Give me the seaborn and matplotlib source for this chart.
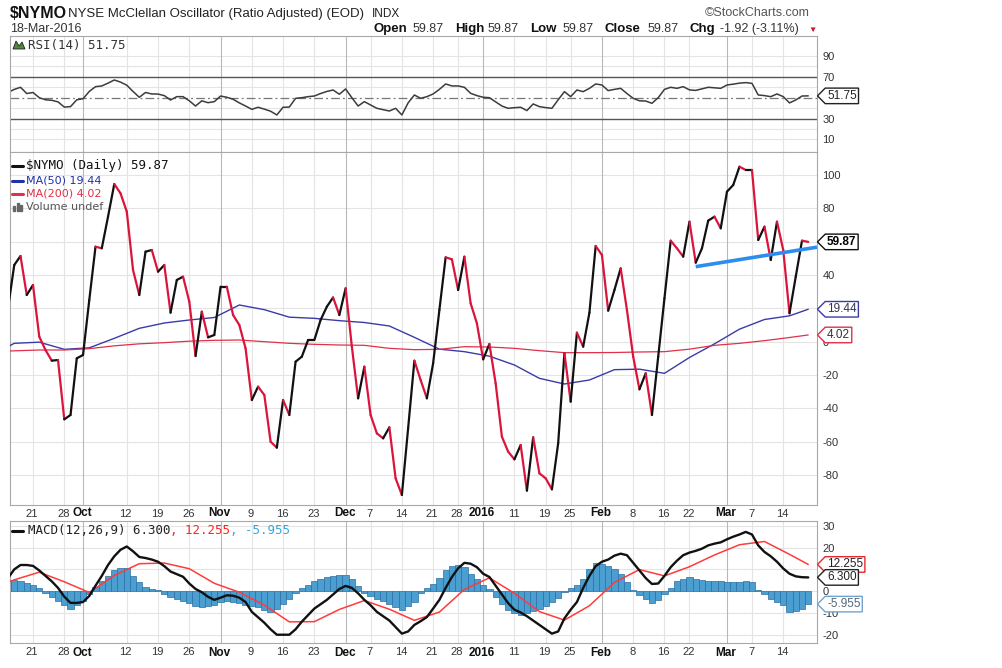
import numpy as np
import pandas as pd
import matplotlib
matplotlib.use("Agg")
import matplotlib.pyplot as plt
import seaborn as sns
from matplotlib.collections import LineCollection
from matplotlib.lines import Line2D
from matplotlib.patches import Rectangle, Polygon
from matplotlib.path import Path

# ---- values (one value per trading day) ----
holidays = ["2015-11-26", "2015-12-25", "2016-01-01", "2016-01-18", "2016-02-15"]
first_day, last_day = "2015-09-15", "2016-03-18"

nymo = [20, 46, 51.4, 28, 34, 3, -5, -11.4, -11, -46.6,
        -44, -10, -8, 25, 57, 56, 75, 94.6, 89, 78,
        43, 28, 54, 55, 42, 46, 17.4, 37, 39, 24,
        -8.6, 18, 2.6, 4, 33, 33, 16, 10, -4, -35,
        -27, -32, -60, -63.6, -35, -44, -12, -9, 1, 1,
        13, 21, 26.5, 16, 32, -3, -34, -15, -44, -55,
        -58, -51.4, -82, -92, -52, -11.4, -23, -34, -13, 19,
        50.6, 49.4, 31, 51, 23, 11, -10.6, -1.4, -25, -57,
        -66, -70.6, -62, -89.4, -57.4, -79, -82, -88.6, -61, -7,
        -36, 5.4, -3, 17.4, 57.4, 52, 18.6, 31, 44, 19,
        -9, -28.6, -19, -44, -9, 26, 60.6, 56, 51, 72,
        47.4, 56, 72.6, 75, 68, 90, 94, 105, 103, 103,
        61, 69, 49, 72, 55, 17, 39, 60.6, 59.87]

rsi = [55, 58, 60, 54, 55, 50, 48, 47.5, 46, 41,
       41.4, 48, 49, 56, 60.6, 61.3, 64, 67, 65, 62,
       56, 50.4, 55, 53.6, 53.5, 52, 47.8, 51, 51, 47,
       42, 47, 45.2, 46.2, 51.6, 50.4, 48.5, 45, 42, 38.8,
       40.8, 39, 37, 33.4, 40.8, 41, 49.4, 50, 51, 51.6,
       54, 56, 57.4, 53.3, 58.4, 50, 42, 46.2, 43, 39.8,
       38.5, 37.2, 39.8, 33.4, 45, 52.6, 49.4, 51, 53.6, 58,
       63.2, 61.3, 61.3, 60, 54.2, 52, 50.4, 50, 46, 42,
       39.8, 40.4, 40.8, 37.6, 44, 41.4, 40.5, 39.8, 48, 55.8,
       51, 57.4, 55.8, 59, 63.2, 62.2, 56.8, 58, 59, 54,
       49.4, 47, 46.8, 44.6, 50, 58, 60, 59, 60.6, 57.5,
       57, 58.5, 60, 59.5, 59, 62.2, 63, 64, 64.5, 63.8,
       52.6, 52, 51, 53.6, 51, 45, 47.8, 51.6, 51.75]

# smooth lines, read every fourth trading day
ma_days = [-1, 0, 4, 8, 12, 16, 20, 24, 28, 32, 36, 40, 44, 48, 52, 56, 60,
           64, 68, 72, 76, 80, 84, 88, 92, 96, 100, 104, 108, 112, 116, 120, 124, 127]
ma50 = [-3, -1, -0.3, -4.6, -3.7, 2, 8, 11.2, 13, 14.5, 22, 19.2, 14.7, 14, 12.6, 11.5, 9.4,
        2.6, -4.5, -6, -8.7, -14, -22, -25.4, -23, -16.8, -16.5, -19, -9.5, -1.3, 7.5, 13.3, 15.5, 19.44]
ma200 = [-5.6, -5.5, -5, -5, -4.2, -2.5, -1.3, -0.6, 0.3, 0.8, 1, 0, -1, -1.6, -2, -2.2, -4,
         -4.8, -4.6, -3, -3.2, -4, -5.4, -6.6, -6.6, -6.5, -6.2, -6, -4.5, -2.2, -1, 0.6, 2.5, 4.02]
macd_signal = [4, 5.2, 8.7, 4.3, -0.6, 7.2, 12.6, 12.9, 10.3, 3.6, -0.5, -6.4, -14.1, -14, -8.4, -4.3, -8.3,
               -13.4, -9.6, 0.8, 6.1, -1, -9.4, -13.3, -6.7, 4, 9.9, 7, 11.2, 16.6, 21.3, 22.8, 16.9, 12.255]

macd = [6, 10, 12, 12, 11.6, 9.5, 7, 4.5, 1.5, -2.5,
        -5.4, -5.4, -5, -2.2, 2.5, 7, 12, 16, 19, 20.5,
        18.3, 15.7, 15.2, 14.5, 13.5, 11.5, 9, 7.8, 6.6, 3.5,
        1, -0.5, -2.6, -4, -3, -1.9, -2.1, -3, -5, -9.5,
        -12, -14.5, -17.5, -20, -20, -20, -17.5, -14, -11, -8,
        -6, -4, -1.5, 1, 2.4, 1.5, -1, -4, -6.5, -9.5,
        -11.5, -13.5, -16.5, -19.5, -18.5, -15.5, -13.8, -11.9, -8, -4,
        1.5, 6.5, 10.5, 13, 12.6, 11, 8, 6.5, 2.5, -1.5,
        -5.5, -8.5, -9.8, -11.5, -13.5, -15.5, -17.5, -19.5, -18.5, -12.5,
        -8.5, -5, 1.5, 7, 11.5, 13.5, 14.5, 16.3, 17.2, 16.5,
        13, 9.5, 6, 3.3, 3.5, 7, 11, 14, 16.5, 17.7,
        18.5, 19.5, 21, 21.8, 22.4, 23.8, 25, 26, 27.2, 26,
        21, 18, 16, 13.5, 10.4, 8, 6.8, 6.4, 6.3]

macd_hist = [5, 5, 4.5, 3.8, 3, 1.5, -1, -2.8, -4.5, -6.5,
             -8.3, -6.5, -4.5, -1.5, 2, 4.5, 7, 9.6, 10.6, 10.5,
             7, 4, 2, 1, 0.5, -1.2, -2.5, -3.5, -4.5, -5.5,
             -7, -7.3, -7, -6.5, -5, -4.5, -5, -5.5, -6.5, -7,
             -7.5, -8.5, -9.5, -8, -5.7, -3.5, -1, 1.5, 3, 4.5,
             5.5, 6.5, 7, 7.3, 7.6, 5.5, 2.5, -0.7, -2, -3.5,
             -4.5, -6, -7.5, -8.8, -7, -5, -1, 1.5, 3.5, 6,
             9.5, 11.5, 12.2, 11, 8, 5.5, 3, 1.2, -2.5, -6,
             -8.5, -9.8, -10.8, -10, -9, -8, -6.8, -5, -3, -0.5,
             1.5, 3, 5.5, 10, 13, 12.5, 11.5, 10, 8, 4,
             0.5, -1.6, -3.4, -5.3, -4.2, -1.5, 1.5, 4.5, 5.8, 6.5,
             5.5, 5, 4.8, 4.5, 4.5, 4.3, 4.3, 4.3, 4.5, 4.3,
             0.5, -1.5, -3.5, -5, -6.5, -9.5, -9.3, -8.3, -5.955]

trend_days = [109, 128.4]
trend_vals = [45, 56.7]

tick_dates = ["2015-09-21", "2015-09-28", "2015-10-01", "2015-10-12", "2015-10-19", "2015-10-26",
              "2015-11-02", "2015-11-09", "2015-11-16", "2015-11-23", "2015-12-01", "2015-12-07",
              "2015-12-14", "2015-12-21", "2015-12-28", "2016-01-04", "2016-01-11", "2016-01-19",
              "2016-01-25", "2016-02-01", "2016-02-08", "2016-02-16", "2016-02-22", "2016-03-01",
              "2016-03-07", "2016-03-14"]
tick_labels = ["21", "28", "Oct", "12", "19", "26", "Nov", "9", "16", "23", "Dec", "7", "14",
               "21", "28", "2016", "11", "19", "25", "Feb", "8", "16", "22", "Mar", "7", "14"]
month_labels = {"Oct", "Nov", "Dec", "2016", "Feb", "Mar"}

rsi_ticks = [10, 30, 50, 70, 90]
main_ticks = [-80, -60, -40, -20, 0, 20, 40, 60, 80, 100]
macd_ticks = [-20, -10, 0, 10, 20, 30]
# tick labels that sit fully under a value tag on the right
hidden_ticks = {"rsi": {50}, "main": {20, 60}, "macd": {10}}

# ---- colours ----
UP, DOWN = "#111111", "#dc143c"
BLUE_MA, RED_MA = "#3b3ba8", "#e0304a"
SIGNAL, HIST, HIST_EDGE = "#ff3b3b", "#4a9fd0", "#2a6ea5"

sns.set_style("white")
plt.rcParams["font.family"] = ["Liberation Sans", "DejaVu Sans"]
plt.rcParams["axes.unicode_minus"] = False

days = pd.bdate_range(first_day, last_day, freq="C", holidays=holidays)
x = np.arange(len(days)) - 1
tick_x = [days.get_loc(pd.Timestamp(d)) - 1 for d in tick_dates]

W, H = 1003, 668
fig = plt.figure(figsize=(W / 100, H / 100), dpi=100)


def fx(px):
    return px / W


def fy(py):
    return 1 - py / H


def panel(top, bottom):
    return fig.add_axes([fx(10), fy(bottom), 807 / W, (bottom - top) / H])


ax_rsi = panel(36, 152)
ax_main = panel(152, 505)
ax_macd = panel(521, 643)

# ---- RSI ----
sns.lineplot(x=x, y=rsi, ax=ax_rsi, color="#3c3c3c", lw=1.1, legend=False)
for v in (10, 20, 40, 60, 80, 90):
    ax_rsi.axhline(v, color="#e4e4e4", lw=0.8, zorder=0)
ax_rsi.axhline(70, color="#555555", lw=1.0, zorder=1)
ax_rsi.axhline(30, color="#555555", lw=1.0, zorder=1)
ax_rsi.axhline(50, color="#777777", lw=0.9, ls=(0, (7, 2.5, 1.5, 2.5)), zorder=1)
ax_rsi.set_ylim(-2.2, 109.3)

# ---- main panel ----
pts = np.column_stack([x, nymo])
segs = np.stack([pts[:-1], pts[1:]], axis=1)
seg_colors = np.where(np.diff(nymo) >= 0, UP, DOWN)
ax_main.add_collection(LineCollection(segs, colors=seg_colors, linewidths=1.6,
                                      capstyle="round", joinstyle="round", zorder=4))
sns.lineplot(x=ma_days, y=ma50, ax=ax_main, color=BLUE_MA, lw=1.0, legend=False, zorder=3)
sns.lineplot(x=ma_days, y=ma200, ax=ax_main, color=RED_MA, lw=0.9, legend=False, zorder=3)
ax_main.plot(trend_days, trend_vals, color="#2e8cf0", lw=2.6, solid_capstyle="butt", zorder=5)
for v in main_ticks:
    ax_main.axhline(v, color="#e4e4e4", lw=0.8, zorder=0)
ax_main.set_ylim(-98, 113.8)

# ---- MACD panel ----
ax_macd.bar(x, macd_hist, width=1.0, color=HIST, edgecolor=HIST_EDGE, linewidth=0.5, zorder=2)
sns.lineplot(x=ma_days, y=macd_signal, ax=ax_macd, color=SIGNAL, lw=1.1, legend=False, zorder=3)
sns.lineplot(x=x, y=macd, ax=ax_macd, color=UP, lw=1.7, legend=False, zorder=4)
for v in macd_ticks:
    ax_macd.axhline(v, color="#e4e4e4", lw=0.8, zorder=0)
ax_macd.set_ylim(-23.8, 32.2)

for ax, ticks, key in ((ax_rsi, rsi_ticks, "rsi"), (ax_main, main_ticks, "main"),
                       (ax_macd, macd_ticks, "macd")):
    ax.set_xlim(-0.68, 128.4)
    ax.set_xlabel("")
    ax.set_ylabel("")
    for s in ax.spines.values():
        s.set_color("#a8a8a8")
        s.set_linewidth(0.8)
    ax.yaxis.tick_right()
    ax.set_yticks(ticks)
    ax.set_yticklabels(["" if t in hidden_ticks[key] else str(t) for t in ticks])
    ax.tick_params(axis="y", length=0, pad=4, labelsize=8, labelcolor="#333333")
    ax.set_xticks([])
    for tx, lab in zip(tick_x, tick_labels):
        ax.axvline(tx, color="#b8b8b8" if lab in month_labels else "#e4e4e4", lw=0.8, zorder=0)

# date labels above and below the MACD panel
for tx, lab in zip(tick_x, tick_labels):
    bold = lab in month_labels
    kw = dict(xycoords=("data", "axes fraction"), textcoords="offset pixels", ha="center",
              fontsize=8.5 if bold else 8, fontweight="bold" if bold else "normal",
              color="#111111" if bold else "#333333", annotation_clip=False)
    ax_macd.annotate(lab, xy=(tx, 1), xytext=(-1, 2), va="bottom", **kw)
    ax_macd.annotate(lab, xy=(tx, 0), xytext=(-1, -4), va="top", **kw)


# ---- right-hand value tags ----
def tag_path(x0, y0, width, height, mutation_size):
    pad = 0.15 * mutation_size
    x0, y0 = x0 - pad, y0 - pad
    width, height = width + 2 * pad, height + 2 * pad
    tip = 0.5 * height
    verts = [(x0 - tip, y0 + height / 2), (x0, y0), (x0 + width, y0),
             (x0 + width, y0 + height), (x0, y0 + height), (x0 - tip, y0 + height / 2)]
    return Path(verts, [Path.MOVETO] + [Path.LINETO] * 4 + [Path.CLOSEPOLY])


def tag(ax, val, text, edge, color="#222222", weight="normal"):
    ax.annotate(text, xy=(1, val), xycoords=("axes fraction", "data"), xytext=(10, 0),
                textcoords="offset pixels", ha="left", va="center", fontsize=8.5,
                color=color, fontweight=weight, annotation_clip=False, zorder=6,
                bbox=dict(boxstyle=tag_path, fc="white", ec=edge, lw=1.0))


tag(ax_rsi, rsi[-1], f"{rsi[-1]:.2f}", "#222222")
tag(ax_main, nymo[-1], f"{nymo[-1]:.2f}", "#111111", "#000000", "bold")
tag(ax_main, ma50[-1], f"{ma50[-1]:.2f}", BLUE_MA, "#333355")
tag(ax_main, ma200[-1], f"{ma200[-1]:.2f}", RED_MA, "#333333")
tag(ax_macd, macd_signal[-1], f"{macd_signal[-1]:.3f}", "#e8262b")
tag(ax_macd, macd[-1], f"{macd[-1]:.3f}", "#222222")
tag(ax_macd, macd_hist[-1], f"{macd_hist[-1]:.3f}", "#6fa3d0", "#556677")

# ---- header ----
fig.text(fx(10), fy(14), "$NYMO", fontsize=11.5, fontweight="bold", va="center", color="#111111")
fig.text(fx(68), fy(14), "NYSE McClellan Oscillator (Ratio Adjusted) (EOD)", fontsize=9.5,
         va="center", color="#222222")
fig.text(fx(372), fy(14), "INDX", fontsize=8.5, va="center", color="#222222")
fig.text(fx(705), fy(13), "\u00a9StockCharts.com", fontsize=9, va="center", color="#555555")
fig.text(fx(10), fy(29), "18-Mar-2016", fontsize=9, va="center", color="#333333")
quote = [("Open", 373, True), ("59.87", 413, False), ("High", 455, True), ("59.87", 488, False),
         ("Low", 530, True), ("59.87", 563, False), ("Close", 605, True), ("59.87", 648, False),
         ("Chg", 690, True), ("-1.92 (-3.11%)", 720, False)]
for s, px, bold in quote:
    fig.text(fx(px), fy(29), s, fontsize=9.5 if bold else 9, va="center",
             fontweight="bold" if bold else "normal", color="#111111" if bold else "#333333")
fig.text(fx(808), fy(30), "\u25bc", fontsize=6, va="center", color="#cc1133")

# ---- in-panel legends ----
MONO = ["DejaVu Sans Mono"]
fig.text(fx(28), fy(45), "RSI(14) 51.75", family=MONO, fontsize=9, va="center", color="#333333")
fig.add_artist(Polygon([(fx(13), fy(49)), (fx(16), fy(41)), (fx(19), fy(46)), (fx(22), fy(42)),
                        (fx(25), fy(49))], closed=True, transform=fig.transFigure,
                       fc="#4d8a3c", ec="#222222", lw=0.6))

legend_rows = [("$NYMO (Daily) 59.87", 166, UP, MONO, 9),
               ("MA(50) 19.44", 180.5, "#2233aa", ["DejaVu Sans"], 8),
               ("MA(200) 4.02", 193.5, "#e0304a", ["DejaVu Sans"], 8)]
for s, py, col, fam, size in legend_rows:
    fig.add_artist(Line2D([fx(12), fx(23)], [fy(py), fy(py)], transform=fig.transFigure,
                          color=col, lw=2.2))
    fig.text(fx(26), fy(py), s, family=fam, fontsize=size, va="center", color=col)
fig.text(fx(26), fy(207), "Volume undef", family=["DejaVu Sans"], fontsize=8, va="center",
         color="#555555")
for bx, bh in ((13, 5), (16.5, 8), (20, 6)):
    fig.add_artist(Rectangle((fx(bx), fy(211)), 2.5 / W, bh / H, transform=fig.transFigure,
                             color="#666666"))

fig.add_artist(Line2D([fx(12), fx(23)], [fy(531), fy(531)], transform=fig.transFigure,
                      color=UP, lw=2.2))
t = fig.text(fx(28), fy(531), "MACD(12,26,9) 6.300", family=MONO, fontsize=9, va="center",
             color="#222222")
t = ax_macd.annotate(", 12.255", xy=(1, 0.5), xycoords=t, va="center", ha="left",
                     family=MONO, fontsize=9, color="#ff2222", annotation_clip=False)
ax_macd.annotate(", -5.955", xy=(1, 0.5), xycoords=t, va="center", ha="left",
                 family=MONO, fontsize=9, color="#33a6dd", annotation_clip=False)

fig.savefig("out.png", dpi=100)
